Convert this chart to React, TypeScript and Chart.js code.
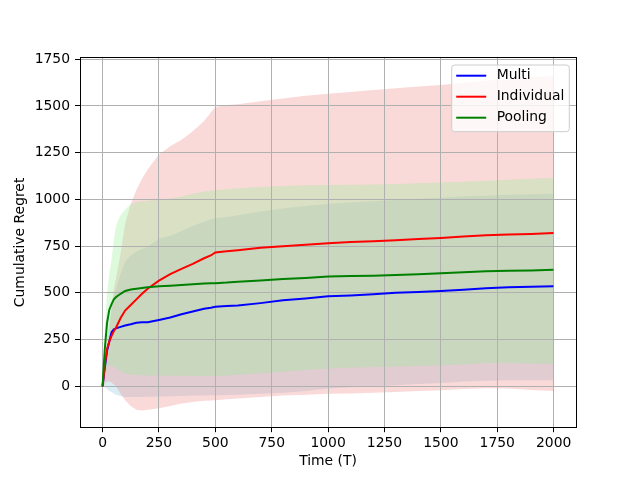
import React, { useEffect, useRef } from "react";
import { Chart, registerables } from "chart.js";

Chart.register(...registerables);

// Time steps (T)
const T = [0, 10, 20, 30, 40, 50, 60, 80, 100, 125, 150, 175, 200, 250, 300, 350, 400, 450, 480, 500, 550, 600, 700, 800, 900, 1000, 1100, 1200, 1300, 1400, 1500, 1600, 1700, 1800, 1900, 1999];

// Mean cumulative regret
const multiMean = [0, 100, 190, 240, 290, 305, 310, 318, 325, 332, 340, 343, 343, 355, 368, 385, 400, 415, 420, 425, 430, 432, 445, 460, 470, 482, 486, 492, 500, 505, 510, 516, 524, 530, 533, 535];
const indivMean = [0, 110, 200, 240, 270, 295, 315, 365, 405, 435, 465, 495, 522, 565, 600, 628, 655, 685, 700, 716, 722, 728, 742, 750, 758, 766, 772, 776, 782, 788, 794, 802, 808, 812, 815, 820];
const poolMean = [0, 200, 340, 410, 440, 465, 478, 495, 510, 518, 522, 526, 530, 535, 538, 542, 546, 550, 551, 552, 555, 560, 566, 574, 580, 587, 590, 592, 596, 600, 605, 610, 615, 618, 620, 624];

// Band bounds
const multiUpper = [0, 110, 250, 350, 420, 480, 520, 600, 665, 700, 720, 735, 745, 790, 805, 830, 858, 880, 893, 900, 905, 915, 935, 952, 965, 975, 983, 990, 997, 1003, 1009, 1015, 1020, 1025, 1028, 1030];
const multiLower = [0, -5, -15, -25, -30, -38, -45, -52, -57, -58, -58, -57, -56, -55, -54, -52, -50, -49, -48, -48, -47, -45, -40, -35, -25, -12, -5, 0, 5, 12, 18, 25, 30, 32, 32, 32];
const indivUpper = [0, 60, 180, 300, 420, 520, 580, 710, 870, 975, 1050, 1110, 1160, 1240, 1285, 1320, 1365, 1420, 1465, 1495, 1505, 1510, 1525, 1540, 1555, 1565, 1575, 1585, 1595, 1605, 1612, 1625, 1635, 1645, 1655, 1660];
const indivLower = [0, 10, 25, 25, 20, 10, 0, -40, -75, -105, -125, -130, -125, -118, -105, -92, -84, -78, -76, -75, -70, -65, -57, -50, -45, -40, -38, -35, -30, -25, -21, -15, -10, -12, -20, -25];
const poolUpper = [0, 300, 500, 600, 680, 780, 860, 915, 945, 975, 985, 990, 993, 1000, 1005, 1015, 1030, 1042, 1047, 1050, 1055, 1060, 1066, 1072, 1076, 1077, 1078, 1080, 1083, 1087, 1090, 1095, 1100, 1105, 1110, 1116];
const poolLower = [0, 80, 110, 112, 110, 105, 100, 80, 68, 62, 60, 59, 58, 58, 57, 56, 55, 55, 55, 55, 58, 62, 70, 78, 87, 95, 100, 103, 106, 109, 112, 118, 125, 125, 122, 121];

const xTicks = [0, 250, 500, 750, 1000, 1250, 1500, 1750, 2000];
const yTicks = [0, 250, 500, 750, 1000, 1250, 1500, 1750];

const seriesNames = ["Multi", "Individual", "Pooling"];
const seriesColors = ["#0000ff", "#ff0000", "#008000"];

const FONT = "DejaVu Sans";
const FSIZE = 13.9;

const toPts = (ys: number[]) => T.map((x, i) => ({ x, y: ys[i] }));

const frameLegendPlugin = {
  id: "frameLegend",
  afterDatasetsDraw(chart: any) {
    const { ctx, chartArea: a } = chart;
    ctx.save();
    ctx.strokeStyle = "#000";
    ctx.lineWidth = 1;
    const l = Math.floor(a.left) + 0.5;
    const t = Math.floor(a.top) + 0.5;
    const r = Math.floor(a.right) + 0.5;
    const b = Math.floor(a.bottom) + 0.5;
    ctx.strokeRect(l, t, r - l, b - t);
    ctx.restore();
  },
  afterDraw(chart: any) {
    const { ctx, chartArea: a } = chart;
    const bw = 117.6;
    const bh = 66.7;
    const bx = a.right - 6.7 - bw;
    const by = a.top + 7.4;
    ctx.save();
    ctx.beginPath();
    if ((ctx as any).roundRect) {
      (ctx as any).roundRect(bx, by, bw, bh, 3);
    } else {
      ctx.rect(bx, by, bw, bh);
    }
    ctx.fillStyle = "rgba(255,255,255,0.8)";
    ctx.fill();
    ctx.strokeStyle = "#cccccc";
    ctx.lineWidth = 1;
    ctx.stroke();
    ctx.font = `${FSIZE}px "${FONT}"`;
    ctx.textBaseline = "middle";
    ctx.textAlign = "left";
    seriesNames.forEach((name, i) => {
      const cy = by + 10.7 + i * 21;
      ctx.strokeStyle = seriesColors[i];
      ctx.lineWidth = 2;
      ctx.beginPath();
      ctx.moveTo(bx + 4.5, cy);
      ctx.lineTo(bx + 34.5, cy);
      ctx.stroke();
      ctx.fillStyle = "#000";
      ctx.fillText(name, bx + 45, cy);
    });
    ctx.restore();
  },
};

export default function App() {
  const ref = useRef<HTMLCanvasElement | null>(null);
  useEffect(() => {
    if (!ref.current) return;
    const lineDs = (i: number, ys: number[]) => ({
      label: seriesNames[i],
      data: toPts(ys),
      borderColor: seriesColors[i],
      backgroundColor: seriesColors[i],
      borderWidth: 2,
      pointRadius: 0,
      pointHoverRadius: 0,
      fill: false,
      tension: 0,
      order: 2 - i,
    });
    const bandDs = (label: string, ys: number[], fill: any, color: string, order: number) => ({
      label,
      data: toPts(ys),
      borderColor: "rgba(0,0,0,0)",
      backgroundColor: color,
      borderWidth: 0,
      pointRadius: 0,
      pointHoverRadius: 0,
      fill,
      tension: 0,
      order,
    });
    const chart = new Chart(ref.current, {
      type: "line",
      data: {
        datasets: [
          lineDs(0, multiMean),
          lineDs(1, indivMean),
          lineDs(2, poolMean),
          bandDs("_multiUpper", multiUpper, 4, "rgba(173,216,230,0.45)", 5),
          bandDs("_multiLower", multiLower, false, "rgba(0,0,0,0)", 5),
          bandDs("_indivUpper", indivUpper, 6, "rgba(240,128,128,0.3)", 4),
          bandDs("_indivLower", indivLower, false, "rgba(0,0,0,0)", 4),
          bandDs("_poolUpper", poolUpper, 8, "rgba(144,238,144,0.3)", 3),
          bandDs("_poolLower", poolLower, false, "rgba(0,0,0,0)", 3),
        ] as any,
      },
      options: {
        animation: false,
        responsive: false,
        devicePixelRatio: 1,
        events: [],
        layout: { padding: { left: 0, top: 57.6, right: 64, bottom: 0 } },
        plugins: {
          legend: { display: false },
          tooltip: { enabled: false },
          filler: { drawTime: "beforeDraw" } as any,
        },
        scales: {
          x: {
            type: "linear",
            min: -100,
            max: 2099,
            afterBuildTicks: (s: any) => {
              s.ticks = xTicks.map((v) => ({ value: v }));
            },
            afterFit: (s: any) => {
              s.height = 52.8;
            },
            grid: { color: "#b0b0b0", lineWidth: 1, tickColor: "#000", tickLength: 5, drawTicks: true },
            border: { display: false },
            ticks: {
              color: "#000",
              font: { family: FONT, size: FSIZE },
              padding: 3,
              maxRotation: 0,
              autoSkip: false,
              callback: (v: any) => String(v),
            },
            title: {
              display: true,
              text: "Time (T)",
              color: "#000",
              font: { family: FONT, size: FSIZE },
              padding: { top: 0, bottom: 10 },
            },
          },
          y: {
            type: "linear",
            min: -219,
            max: 1759,
            afterBuildTicks: (s: any) => {
              s.ticks = yTicks.map((v) => ({ value: v }));
            },
            afterFit: (s: any) => {
              s.width = 80;
            },
            grid: { color: "#b0b0b0", lineWidth: 1, tickColor: "#000", tickLength: 5, drawTicks: true },
            border: { display: false },
            ticks: {
              color: "#000",
              font: { family: FONT, size: FSIZE },
              padding: 5,
              autoSkip: false,
              callback: (v: any) => String(v),
            },
            title: {
              display: true,
              text: "Cumulative Regret",
              color: "#000",
              font: { family: FONT, size: FSIZE },
              padding: { top: 12.5, bottom: 0 },
            },
          },
        },
      },
      plugins: [frameLegendPlugin],
    });
    return () => chart.destroy();
  }, []);
  return (
    <div style={{ position: "absolute", left: 0, top: 0, width: 640, height: 480, background: "#fff" }}>
      <canvas ref={ref} width={640} height={480} style={{ width: 640, height: 480 }} />
    </div>
  );
}
